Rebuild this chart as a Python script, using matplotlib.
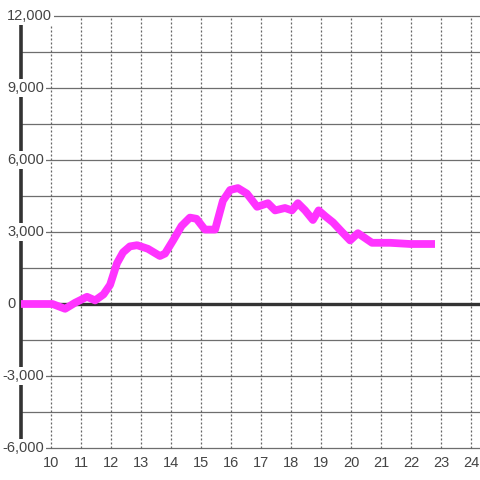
import matplotlib
matplotlib.use("Agg")
import matplotlib.pyplot as plt

# Data
x_vals = [9.0, 10.05, 10.47, 10.8, 11.2, 11.47, 11.75, 11.97, 12.2, 12.4, 12.63, 12.87,
          13.23, 13.63, 13.8, 14.07, 14.35, 14.63, 14.85, 15.13, 15.47, 15.73, 15.97,
          16.23, 16.53, 16.87, 17.23, 17.47, 17.8, 18.03, 18.23, 18.47, 18.73, 18.92,
          19.15, 19.4, 19.7, 19.97, 20.23, 20.7, 21.3, 21.97, 22.8]
y_vals = [0, 0, -200, 50, 300, 150, 400, 800, 1700, 2150, 2400, 2450,
          2300, 2000, 2100, 2650, 3250, 3600, 3550, 3100, 3100, 4300, 4750,
          4830, 4600, 4050, 4200, 3900, 4000, 3900, 4200, 3900, 3500, 3900,
          3650, 3400, 3000, 2650, 2950, 2550, 2550, 2500, 2500]
y_ticks = [-6000, -3000, 0, 3000, 6000, 9000, 12000]
y_tick_labels = ["-6,000", "-3,000", "0", "3,000", "6,000", "9,000", "12,000"]
x_ticks = list(range(10, 25))

W, H = 480, 480
fig = plt.figure(figsize=(4.8, 4.8), dpi=100)
plt.rcParams['font.family'] = ['Liberation Sans', 'DejaVu Sans']
L, R, T, B = 21, 480, 16, 448
ax = fig.add_axes([L / W, (H - B) / H, (R - L) / W, (B - T) / H])
ax.set_xlim(9, 9 + (R - L) / 30)
ax.set_ylim(-6000, 12000)
ax.axis('off')

def px2x(px):
    return 9 + (px - L) / 30

# horizontal grid
for v in range(-6000, 12001, 1500):
    ax.plot([9, px2x(480)], [v, v], color='#6e6e6e', lw=0.9, zorder=1,
            solid_capstyle='butt', clip_on=False)
# vertical dotted grid
for xv in x_ticks:
    ax.plot([xv, xv], [-6000, 12000], color='#666666', lw=0.9,
            linestyle=(0, (1.6, 1.6)), zorder=1, clip_on=False)
# zero line
ax.plot([9, px2x(480)], [0, 0], color='#333333', lw=2.4, zorder=2,
        solid_capstyle='butt', clip_on=False)
# left axis line
ax.plot([9, 9], [-6000, 12000], color='#333333', lw=2.6, zorder=2,
        solid_capstyle='butt', clip_on=False)

# data line
ax.plot(x_vals, y_vals, color='#ff33ff', lw=5.6, zorder=3,
        solid_capstyle='butt', solid_joinstyle='round')

# y labels
for v, lab in zip(y_ticks, y_tick_labels):
    px = 2 if v < 0 else 7
    ax.text(px2x(px), v, lab, ha='left', va='center', fontsize=10.5,
            color='#444444', zorder=5, clip_on=False,
            bbox=dict(facecolor='white', edgecolor='none', pad=1.5))
# x labels
off = 8 * 18000 / (B - T)
for xv in x_ticks:
    ax.text(xv, -6000 - off, str(xv), ha='center', va='top', fontsize=10.5,
            color='#444444', zorder=5, clip_on=False)

fig.savefig('out.png', dpi=100, facecolor='white')
